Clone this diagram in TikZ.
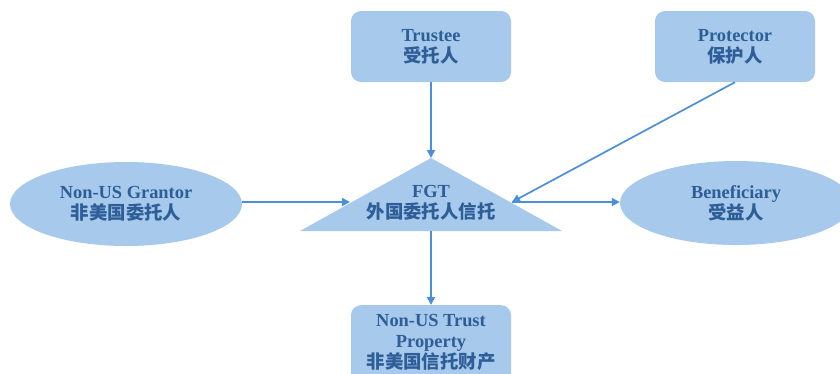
\documentclass[tikz,border=0pt]{standalone}
\usepackage{fontspec}
\setmainfont{Liberation Serif}
\newfontfamily\cjk{Noto Sans CJK SC}
\usetikzlibrary{shapes.geometric,arrows.meta}
\definecolor{boxfill}{HTML}{A7C9EB}
\definecolor{txt}{HTML}{2D5E98}
\definecolor{arr}{HTML}{4A8FD8}
\tikzset{
  lbl/.style={text=txt,font=\fontsize{18.4}{21}\selectfont\bfseries,align=center},
  rbox/.style={lbl,fill=boxfill,rounded corners=10pt,minimum width=160pt,minimum height=71pt,inner sep=0pt},
  ell/.style={lbl,ellipse,fill=boxfill,minimum width=232pt,minimum height=84pt,inner sep=0pt},
  conn/.style={draw=arr,line width=1.7pt,-{Triangle[length=8pt,width=8pt]}}
}
\begin{document}
\begin{tikzpicture}[x=1pt,y=-1pt]
\useasboundingbox (0,0) rectangle (840,373);
\clip (0,0) rectangle (840,373);
\node[rbox] (trustee) at (431,46.5) {Trustee\\{\cjk 受托人}};
\node[rbox] (protector) at (735,46.5) {Protector\\{\cjk 保护人}};
\node[ell] (grantor) at (126,204) {Non-US Grantor\\{\cjk 非美国委托人}};
\node[ell] (benef) at (736,203) {Beneficiary\\{\cjk 受益人}};
\coordinate (ta) at (431,158);
\coordinate (tb) at (300,231);
\coordinate (tc) at (562,231);
\fill[boxfill] (ta) -- (tb) -- (tc) -- cycle;
\node[lbl] (fgt) at (431,202.5) {FGT\\{\cjk 外国委托人信托}};
\coordinate (tl) at (350,202);
\coordinate (tr) at (512,202);
\coordinate (tbot) at (431,231);
\node[rbox,anchor=north,minimum height=90pt] (prop) at (431,305) {};
\node[lbl] (proptext) at (431,342) {Non-US Trust\\Property\\{\cjk 非美国信托财产}};
\draw[conn] (trustee.south) -- (ta);
\draw[conn] (grantor.east |- tl) -- (tl);
\draw[conn] (protector.south) -- (tr);
\draw[conn] (tr) -- (benef.west |- tr);
\draw[conn] (tbot) -- (prop.north);
\end{tikzpicture}
\end{document}
